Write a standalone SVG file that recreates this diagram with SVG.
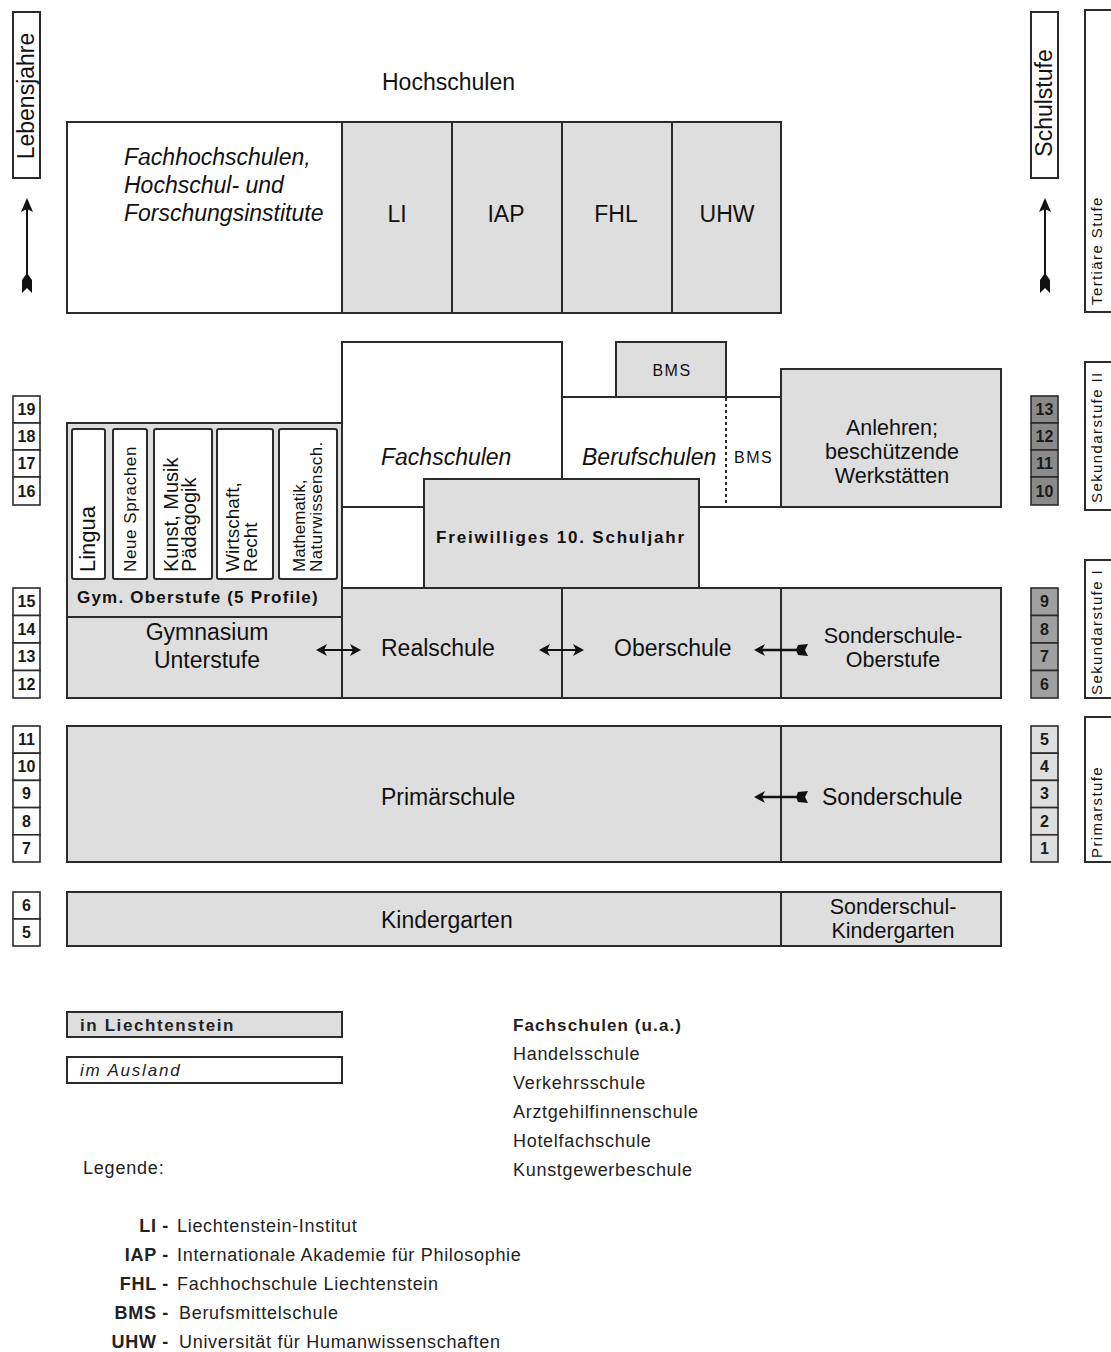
<svg xmlns="http://www.w3.org/2000/svg" width="1111" height="1352" viewBox="0 0 1111 1352">
<style>
.bx{stroke:#2b2b2b;stroke-width:2}
.g{fill:#dedede}
.w{fill:#fff}
.nb{stroke:#2b2b2b;stroke-width:1.6}
.t{font-family:"Liberation Sans",Arial,sans-serif;font-size:23px;fill:#111}
.t2{font-size:21.5px}
.it{font-style:italic}
.b{font-weight:bold}
.n{font-family:"Liberation Sans",Arial,sans-serif;font-size:16px;font-weight:bold;fill:#1a1a1a;text-anchor:middle}
.s{font-family:"Liberation Sans",Arial,sans-serif;font-size:15px;fill:#111;letter-spacing:1.4px}
.lg{font-family:"Liberation Sans",Arial,sans-serif;font-size:18px;fill:#222;letter-spacing:0.7px}
.mid{text-anchor:middle}
.end{text-anchor:end}
.ln{stroke:#111;stroke-width:2;fill:none}
.ah{fill:#111}
</style>
<rect width="1111" height="1352" fill="#fff"/>

<!-- axis labels -->
<g id="lebensjahre">
<rect class="bx w" x="13" y="12" width="27" height="166"/>
<text class="t mid" transform="translate(34,96) rotate(-90)">Lebensjahre</text>
</g>
<g id="schulstufe">
<rect class="bx w" x="1031" y="12" width="27" height="166"/>
<text class="t mid" transform="translate(1052,103) rotate(-90)">Schulstufe</text>
</g>
<g id="tertiaere-stufe">
<rect class="bx w" x="1085" y="10" width="30" height="302"/>
<text class="s" transform="translate(1102,305) rotate(-90)">Tertiäre Stufe</text>
</g>
<g id="sek2">
<rect class="bx w" x="1085" y="362" width="30" height="148"/>
<text class="s" transform="translate(1102,503) rotate(-90)">Sekundarstufe II</text>
</g>
<g id="sek1">
<rect class="bx w" x="1085" y="560" width="30" height="138"/>
<text class="s" transform="translate(1102,695) rotate(-90)">Sekundarstufe I</text>
</g>
<g id="primarstufe">
<rect class="bx w" x="1085" y="717" width="30" height="145"/>
<text class="s" transform="translate(1102,858) rotate(-90)">Primarstufe</text>
</g>

<!-- Tertiary -->
<text class="t" x="382" y="90">Hochschulen</text>
<g id="fachhochschulen">
<rect class="bx w" x="67" y="122" width="275" height="191"/>
<text class="t it" x="124" y="165">Fachhochschulen,</text>
<text class="t it" x="124" y="193">Hochschul- und</text>
<text class="t it" x="124" y="221">Forschungsinstitute</text>
</g>
<g id="li"><rect class="bx g" x="342" y="122" width="110" height="191"/><text class="t mid" x="397" y="222">LI</text></g>
<g id="iap"><rect class="bx g" x="452" y="122" width="110" height="191"/><text class="t mid" x="506" y="222">IAP</text></g>
<g id="fhl"><rect class="bx g" x="562" y="122" width="110" height="191"/><text class="t mid" x="616" y="222">FHL</text></g>
<g id="uhw"><rect class="bx g" x="672" y="122" width="109" height="191"/><text class="t mid" x="727" y="222">UHW</text></g>

<!-- Sek II -->
<g id="fachschulen">
<rect class="bx w" x="342" y="342" width="220" height="165"/>
<text class="t it" x="381" y="465">Fachschulen</text>
</g>
<g id="berufschulen">
<rect class="bx w" x="562" y="397" width="219" height="110"/>
<line x1="726" y1="398" x2="726" y2="507" stroke="#2b2b2b" stroke-width="2" stroke-dasharray="3,3"/>
<text class="t it" x="582" y="465">Berufschulen</text>
<text class="t" x="734" y="463" style="font-size:16px;letter-spacing:1.5px">BMS</text>
</g>
<g id="bms-top">
<rect class="bx g" x="616" y="342" width="110" height="55"/>
<text class="t mid" x="672" y="376" style="font-size:16px;letter-spacing:1.5px">BMS</text>
</g>
<g id="anlehren">
<rect class="bx g" x="781" y="369" width="220" height="138"/>
<text class="t t2 mid" x="892" y="435">Anlehren;</text>
<text class="t t2 mid" x="892" y="459">beschützende</text>
<text class="t t2 mid" x="892" y="483">Werkstätten</text>
</g>
<g id="gym-oberstufe">
<rect class="bx g" x="67" y="423" width="275" height="194"/>
<rect class="bx w" x="72" y="429" width="33" height="150" rx="2"/>
<rect class="bx w" x="113" y="429" width="34" height="150" rx="2"/>
<rect class="bx w" x="154" y="429" width="58" height="150" rx="2"/>
<rect class="bx w" x="217" y="429" width="56" height="150" rx="2"/>
<rect class="bx w" x="279" y="429" width="58" height="150" rx="2"/>
<text class="t" style="font-size:22px" transform="translate(95,572) rotate(-90)">Lingua</text>
<text class="t" style="font-size:17px;letter-spacing:0.6px" transform="translate(136,572) rotate(-90)">Neue Sprachen</text>
<text class="t" style="font-size:20px" transform="translate(178,572) rotate(-90)">Kunst, Musik</text>
<text class="t" style="font-size:20px" transform="translate(196,572) rotate(-90)">Pädagogik</text>
<text class="t" style="font-size:19px" transform="translate(239,572) rotate(-90)">Wirtschaft,</text>
<text class="t" style="font-size:19px" transform="translate(257,572) rotate(-90)">Recht</text>
<text class="t" style="font-size:17px" transform="translate(305,572) rotate(-90)">Mathematik,</text>
<text class="t" style="font-size:17px;letter-spacing:0.4px" transform="translate(322,572) rotate(-90)">Naturwissensch.</text>
<text class="t b" x="77" y="603" style="font-size:17px;letter-spacing:1.2px">Gym. Oberstufe (5 Profile)</text>
</g>
<g id="freiwilliges">
<rect class="bx g" x="424" y="479" width="275" height="109"/>
<text class="t b mid" x="561" y="543" style="font-size:17px;letter-spacing:1.8px">Freiwilliges 10. Schuljahr</text>
</g>

<!-- Sek I -->
<g id="gym-unterstufe">
<rect class="bx g" x="67" y="617" width="275" height="81"/>
<text class="t mid" x="207" y="640">Gymnasium</text>
<text class="t mid" x="207" y="668">Unterstufe</text>
</g>
<g id="realschule"><rect class="bx g" x="342" y="588" width="220" height="110"/><text class="t" x="381" y="656">Realschule</text></g>
<g id="oberschule"><rect class="bx g" x="562" y="588" width="219" height="110"/><text class="t" x="614" y="656">Oberschule</text></g>
<g id="sonderschule-oberstufe">
<rect class="bx g" x="781" y="588" width="220" height="110"/>
<text class="t t2 mid" x="893" y="643">Sonderschule-</text>
<text class="t t2 mid" x="893" y="667">Oberstufe</text>
</g>

<!-- Primary -->
<g id="primaerschule"><rect class="bx g" x="67" y="726" width="714" height="136"/><text class="t" x="381" y="805">Primärschule</text></g>
<g id="sonderschule"><rect class="bx g" x="781" y="726" width="220" height="136"/><text class="t" x="822" y="805">Sonderschule</text></g>

<!-- Kindergarten -->
<g id="kindergarten"><rect class="bx g" x="67" y="892" width="714" height="54"/><text class="t" x="381" y="928">Kindergarten</text></g>
<g id="sonderschul-kindergarten">
<rect class="bx g" x="781" y="892" width="220" height="54"/>
<text class="t t2 mid" x="893" y="914">Sonderschul-</text>
<text class="t t2 mid" x="893" y="938">Kindergarten</text>
</g>

<!-- Age numbers -->
<g id="ages">
<rect class="nb w" x="13" y="396" width="27" height="27"/><rect class="nb w" x="13" y="423" width="27" height="27"/><rect class="nb w" x="13" y="450" width="27" height="27"/><rect class="nb w" x="13" y="477" width="27" height="28"/>
<text class="n" x="26.5" y="415">19</text><text class="n" x="26.5" y="442">18</text><text class="n" x="26.5" y="469">17</text><text class="n" x="26.5" y="497">16</text>
<rect class="nb w" x="13" y="588" width="27" height="27.5"/><rect class="nb w" x="13" y="615.5" width="27" height="27.5"/><rect class="nb w" x="13" y="643" width="27" height="27.5"/><rect class="nb w" x="13" y="670.5" width="27" height="27.5"/>
<text class="n" x="26.5" y="607">15</text><text class="n" x="26.5" y="635">14</text><text class="n" x="26.5" y="662">13</text><text class="n" x="26.5" y="690">12</text>
<rect class="nb w" x="13" y="726" width="27" height="27.2"/><rect class="nb w" x="13" y="753.2" width="27" height="27.2"/><rect class="nb w" x="13" y="780.4" width="27" height="27.2"/><rect class="nb w" x="13" y="807.6" width="27" height="27.2"/><rect class="nb w" x="13" y="834.8" width="27" height="27.2"/>
<text class="n" x="26.5" y="745">11</text><text class="n" x="26.5" y="772">10</text><text class="n" x="26.5" y="799">9</text><text class="n" x="26.5" y="827">8</text><text class="n" x="26.5" y="854">7</text>
<rect class="nb w" x="13" y="892" width="27" height="27"/><rect class="nb w" x="13" y="919" width="27" height="27"/>
<text class="n" x="26.5" y="911">6</text><text class="n" x="26.5" y="938">5</text>
</g>

<!-- School years -->
<g id="schoolyears">
<rect class="nb" fill="#8a8a8a" x="1031" y="396" width="27" height="27"/><rect class="nb" fill="#8a8a8a" x="1031" y="423" width="27" height="27"/><rect class="nb" fill="#8a8a8a" x="1031" y="450" width="27" height="27"/><rect class="nb" fill="#8a8a8a" x="1031" y="477" width="27" height="28"/>
<text class="n" x="1044.5" y="415">13</text><text class="n" x="1044.5" y="442">12</text><text class="n" x="1044.5" y="469">11</text><text class="n" x="1044.5" y="497">10</text>
<rect class="nb" fill="#a0a0a0" x="1031" y="588" width="27" height="27.5"/><rect class="nb" fill="#a0a0a0" x="1031" y="615.5" width="27" height="27.5"/><rect class="nb" fill="#a0a0a0" x="1031" y="643" width="27" height="27.5"/><rect class="nb" fill="#a0a0a0" x="1031" y="670.5" width="27" height="27.5"/>
<text class="n" x="1044.5" y="607">9</text><text class="n" x="1044.5" y="635">8</text><text class="n" x="1044.5" y="662">7</text><text class="n" x="1044.5" y="690">6</text>
<rect class="nb g" x="1031" y="726" width="27" height="27.2"/><rect class="nb g" x="1031" y="753.2" width="27" height="27.2"/><rect class="nb g" x="1031" y="780.4" width="27" height="27.2"/><rect class="nb g" x="1031" y="807.6" width="27" height="27.2"/><rect class="nb g" x="1031" y="834.8" width="27" height="27.2"/>
<text class="n" x="1044.5" y="745">5</text><text class="n" x="1044.5" y="772">4</text><text class="n" x="1044.5" y="799">3</text><text class="n" x="1044.5" y="827">2</text><text class="n" x="1044.5" y="854">1</text>
</g>

<!-- Connectors -->
<g id="connectors">
<line class="ln" x1="27" y1="208" x2="27" y2="282"/>
<polygon class="ah" points="27,198 21,212 27,209 33,212"/>
<polygon class="ah" points="22,293 27,288 32,293 32,280 27,273 22,280"/>
<line class="ln" x1="1045" y1="208" x2="1045" y2="282"/>
<polygon class="ah" points="1045,198 1039,212 1045,209 1051,212"/>
<polygon class="ah" points="1040,293 1045,288 1050,293 1050,280 1045,273 1040,280"/>

<line class="ln" x1="322" y1="650" x2="355" y2="650"/>
<polygon class="ah" points="316,650 327,644 324,650 327,656"/>
<polygon class="ah" points="361,650 350,644 353,650 350,656"/>
<line class="ln" x1="545" y1="650" x2="578" y2="650"/>
<polygon class="ah" points="539,650 550,644 547,650 550,656"/>
<polygon class="ah" points="584,650 573,644 576,650 573,656"/>

<line class="ln" x1="760" y1="650" x2="800" y2="650" style="stroke-width:2.5"/>
<polygon class="ah" points="754,650 765,644 762,650 765,656"/>
<polygon class="ah" points="808,644 805,650 808,656 798,655 796,650 798,645"/>
<line class="ln" x1="760" y1="797" x2="800" y2="797" style="stroke-width:2.5"/>
<polygon class="ah" points="754,797 765,791 762,797 765,803"/>
<polygon class="ah" points="808,791 805,797 808,803 798,802 796,797 798,792"/>
</g>

<!-- Legend -->
<g id="legend-liechtenstein">
<rect class="bx g" x="67" y="1012" width="275" height="25"/>
<text class="lg b" x="80" y="1031" style="font-size:17px;letter-spacing:1.6px">in Liechtenstein</text>
</g>
<g id="legend-ausland">
<rect class="bx w" x="67" y="1057" width="275" height="26"/>
<text class="lg it" x="80" y="1076" style="font-size:17px;letter-spacing:1.8px">im Ausland</text>
</g>
<text class="lg" x="83" y="1174" style="letter-spacing:0.8px">Legende:</text>
<g id="legend-fachschulen">
<text class="lg b" x="513" y="1031" style="font-size:17px;letter-spacing:1.1px">Fachschulen (u.a.)</text>
<text class="lg" x="513" y="1060">Handelsschule</text>
<text class="lg" x="513" y="1089">Verkehrsschule</text>
<text class="lg" x="513" y="1118">Arztgehilfinnenschule</text>
<text class="lg" x="513" y="1147">Hotelfachschule</text>
<text class="lg" x="513" y="1176">Kunstgewerbeschule</text>
</g>
<g id="legend-abbr">
<text class="lg b end" x="169" y="1232">LI -</text><text class="lg" x="177" y="1232">Liechtenstein-Institut</text>
<text class="lg b end" x="169" y="1261">IAP -</text><text class="lg" x="177" y="1261">Internationale Akademie für Philosophie</text>
<text class="lg b end" x="169" y="1290">FHL -</text><text class="lg" x="177" y="1290">Fachhochschule Liechtenstein</text>
<text class="lg b end" x="169" y="1319">BMS -</text><text class="lg" x="179" y="1319">Berufsmittelschule</text>
<text class="lg b end" x="169" y="1348">UHW -</text><text class="lg" x="179" y="1348">Universität für Humanwissenschaften</text>
</g>
</svg>
